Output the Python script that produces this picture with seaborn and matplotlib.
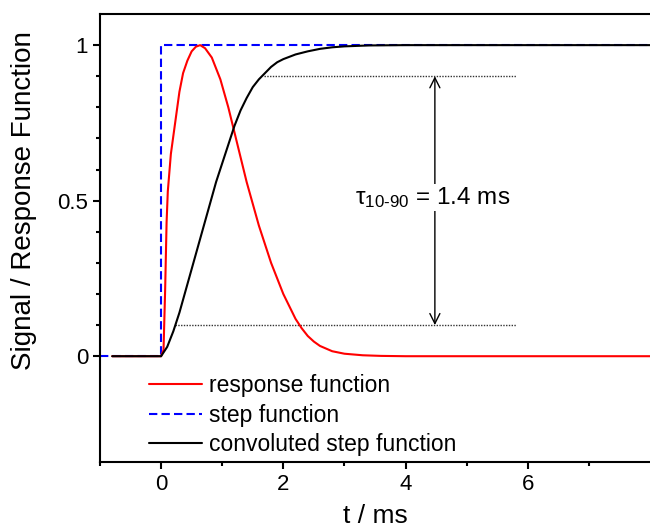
import matplotlib
matplotlib.use('Agg')
import matplotlib.pyplot as plt
import seaborn as sns
import pandas as pd
import numpy as np
from matplotlib.ticker import FixedLocator, FixedFormatter

# values (t in ms)
resp_t = [-0.8, 0.0, 0.04, 0.066, 0.09, 0.11, 0.16, 0.23, 0.30, 0.36, 0.43, 0.50,
          0.57, 0.64, 0.72, 0.83, 0.97, 1.1, 1.2, 1.3, 1.4, 1.5, 1.6, 1.7, 1.8,
          1.9, 2.0, 2.1, 2.2, 2.3, 2.4, 2.5, 2.6, 2.8, 3.0, 3.3, 3.6, 4.0, 8.0]
resp_v = [0.0, 0.0, 0.02, 0.21, 0.43, 0.53, 0.65, 0.75, 0.85, 0.91, 0.95, 0.98,
          0.995, 1.0, 0.99, 0.96, 0.89, 0.80, 0.72, 0.64, 0.56, 0.49, 0.42, 0.36, 0.30,
          0.25, 0.20, 0.16, 0.12, 0.09, 0.065, 0.047, 0.033, 0.016, 0.008, 0.003, 0.001, 0.0, 0.0]

step_t = [-1.0, 0.0, 0.0, 8.0]
step_v = [0.0, 0.0, 1.0, 1.0]

conv_t = [-0.8, 0.0, 0.1, 0.2, 0.3, 0.4, 0.5, 0.6, 0.7, 0.8, 0.9, 1.0, 1.1, 1.2,
          1.3, 1.4, 1.5, 1.6, 1.7, 1.8, 1.9, 2.0, 2.2, 2.4, 2.6, 2.8, 3.0, 3.4, 4.0, 8.0]
conv_v = [0.0, 0.0, 0.03, 0.08, 0.14, 0.21, 0.28, 0.35, 0.42, 0.49, 0.56, 0.62, 0.68, 0.74,
          0.79, 0.83, 0.865, 0.89, 0.91, 0.93, 0.945, 0.955, 0.97, 0.98, 0.988, 0.993, 0.996, 0.999, 1.0, 1.0]

# 10 % / 90 % guide lines and rise time
lvl_10, lvl_90 = 0.1, 0.9
t_10, t_90, t_end = 0.23, 1.68, 5.8
arrow_t = 4.48
rise_label = r'τ$_{\mathregular{10\text{-}90}}$ = 1.4 ms'

sns.set_style('ticks')
plt.rcParams['font.family'] = ['Liberation Sans', 'DejaVu Sans']
plt.rcParams['mathtext.fontset'] = 'custom'
plt.rcParams['mathtext.rm'] = 'Liberation Sans'
plt.rcParams['mathtext.it'] = 'Liberation Sans:italic'
plt.rcParams.update({'text.color': 'black', 'axes.labelcolor': 'black',
                     'xtick.color': 'black', 'ytick.color': 'black'})

fig = plt.figure(figsize=(6.5, 5.29), dpi=100)
ax = fig.add_axes([0.1538, 0.1267, 0.8462, 0.8468])

ax.plot([t_10, t_end], [lvl_10, lvl_10], color='#333333', lw=1.0, ls=(0, (1, 1)), zorder=1)
ax.plot([t_90, t_end], [lvl_90, lvl_90], color='#333333', lw=1.0, ls=(0, (1, 1)), zorder=1)

sns.lineplot(x=resp_t, y=resp_v, sort=False, estimator=None, color='#ff0000', lw=1.5,
             label='response function', ax=ax, zorder=3)
sns.lineplot(x=step_t, y=step_v, sort=False, estimator=None, color='#0000ff', lw=1.5,
             dashes=False, label='step function', ax=ax, zorder=2)
ax.lines[-1].set_linestyle((0, (4, 2)))
sns.lineplot(x=conv_t, y=conv_v, sort=False, estimator=None, color='black', lw=1.5,
             label='convoluted step function', ax=ax, zorder=4)

ax.annotate('', xy=(arrow_t, lvl_10), xytext=(arrow_t, lvl_90),
            arrowprops=dict(arrowstyle='<->', color='black', lw=1.0, mutation_scale=18,
                            shrinkA=0, shrinkB=0), zorder=5)
ax.text(arrow_t - 0.04, 0.51, rise_label, ha='center', va='center', fontsize=17.5, zorder=6,
        bbox=dict(facecolor='white', edgecolor='none', pad=1))

ax.set_xlim(-1, 8)
ax.set_ylim(-0.34, 1.1)
ax.xaxis.set_major_locator(FixedLocator([0, 2, 4, 6]))
ax.xaxis.set_minor_locator(FixedLocator([-1, 1, 3, 5, 7]))
ax.yaxis.set_major_locator(FixedLocator([0, 0.5, 1]))
ax.yaxis.set_major_formatter(FixedFormatter(['0', '0.5', '1']))
ax.yaxis.set_minor_locator(FixedLocator([0.1, 0.2, 0.3, 0.4, 0.6, 0.7, 0.8, 0.9]))
ax.tick_params(which='major', length=5, width=1.5, labelsize=16, direction='out')
ax.tick_params(which='minor', length=3, width=1.5, direction='out')

for s in ['left', 'bottom', 'top']:
    ax.spines[s].set_linewidth(1.5)
    ax.spines[s].set_color('black')
ax.spines['right'].set_visible(False)

ax.set_xlabel('t / ms', fontsize=19)
ax.set_ylabel('Signal / Response Function', fontsize=20)
ax.xaxis.set_label_coords(0.5, -0.093)
ax.yaxis.set_label_coords(-0.115, 0.583)

ax.legend(loc='upper left', bbox_to_anchor=(0.09, 0.197), frameon=False, fontsize=16.5,
          handlelength=2.3, handletextpad=0.3, labelspacing=0.3, borderaxespad=0,
          borderpad=0)

fig.savefig('out.png', dpi=100)
